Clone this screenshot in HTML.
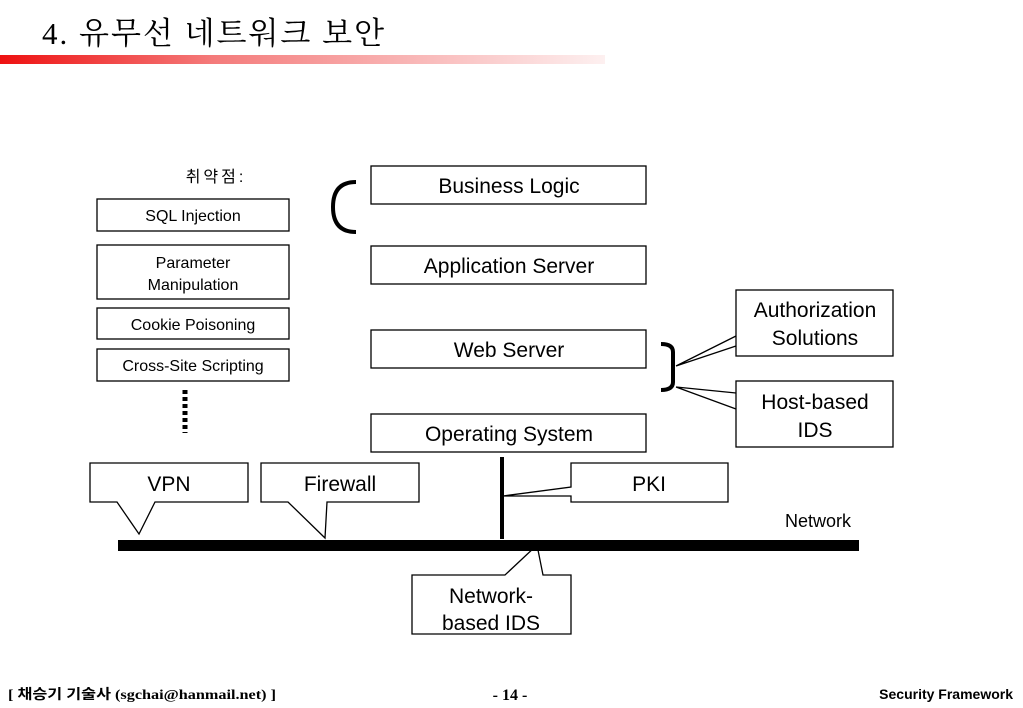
<!DOCTYPE html>
<html><head><meta charset="utf-8"><style>
body{margin:0;background:#fff;width:1023px;height:708px;overflow:hidden}
svg{display:block}
text{font-family:"Liberation Sans","Noto Sans CJK KR",sans-serif;fill:#000}
</style></head><body>
<svg width="1023" height="708" viewBox="0 0 1023 708">
<defs><linearGradient id="g" x1="0" x2="1"><stop offset="0" stop-color="#ee1111"/><stop offset="0.35" stop-color="#f47a7a"/><stop offset="1" stop-color="#fdf0f0"/></linearGradient></defs>
<text x="42" y="44" font-size="31" letter-spacing="2" style="font-family:'Liberation Serif','Noto Serif CJK SC',serif" fill="#1a2040">4. 유무선 네트워크 보안</text>
<rect x="0" y="55" width="605" height="9" fill="url(#g)"/>
<g fill="#fff" stroke="#000" stroke-width="1.3">
<rect x="97" y="199" width="192" height="32"/>
<rect x="97" y="245" width="192" height="54"/>
<rect x="97" y="308" width="192" height="31"/>
<rect x="97" y="349" width="192" height="32"/>
<rect x="371" y="166" width="275" height="38"/>
<rect x="371" y="246" width="275" height="38"/>
<rect x="371" y="330" width="275" height="38"/>
<rect x="371" y="414" width="275" height="38"/>
<rect x="736" y="290" width="157" height="66"/>
<rect x="736" y="381" width="157" height="66"/>
<path d="M90 463H248V502H155L139 534L117 502H90Z"/>
<path d="M261 463H419V502H327L325 538L288 502H261Z"/>
<path d="M571 463H728V502H571V496L503 496L571 487Z"/>
<path d="M412 575H505L537 545L543 575H571V634H412Z"/>
<path d="M676 366L736 336M676 366L736 346M676 387L736 393M676 387L736 409" fill="none"/>
</g>
<rect x="118" y="540" width="741" height="11" fill="#000"/>
<rect x="500" y="457" width="4" height="82" fill="#000"/>
<line x1="185" y1="390" x2="185" y2="433" stroke="#000" stroke-width="5" stroke-dasharray="4,3"/>
<path d="M356 182Q333 182 333 207Q333 232 356 232" fill="none" stroke="#000" stroke-width="4"/>
<path d="M661 344Q673 344 673 352V382Q673 390 661 390" fill="none" stroke="#000" stroke-width="4"/>
<g font-size="16" text-anchor="middle">
<text x="216" y="182" letter-spacing="3">취약점:</text>
<text x="193" y="221">SQL Injection</text>
<text x="193" y="268">Parameter</text>
<text x="193" y="290">Manipulation</text>
<text x="193" y="330">Cookie Poisoning</text>
<text x="193" y="371">Cross-Site Scripting</text>
</g>
<g font-size="21" text-anchor="middle">
<text x="509" y="193">Business Logic</text>
<text x="509" y="273">Application Server</text>
<text x="509" y="357">Web Server</text>
<text x="509" y="441">Operating System</text>
<text x="815" y="317">Authorization</text>
<text x="815" y="345">Solutions</text>
<text x="815" y="409">Host-based</text>
<text x="815" y="437">IDS</text>
<text x="169" y="491">VPN</text>
<text x="340" y="491">Firewall</text>
<text x="649" y="491">PKI</text>
<text x="491" y="603">Network-</text>
<text x="491" y="630">based IDS</text>
</g>
<text x="818" y="527" font-size="18" text-anchor="middle">Network</text>
<text x="8" y="699" font-size="14" font-weight="bold" textLength="268" lengthAdjust="spacingAndGlyphs" style="font-family:'Liberation Serif','Noto Sans CJK KR',serif">[ 채승기 기술사 (sgchai@hanmail.net) ]</text>
<text x="510" y="700" font-size="16" font-weight="bold" text-anchor="middle" style="font-family:'Liberation Serif',serif">- 14 -</text>
<text x="1013" y="699" font-size="14" font-weight="bold" text-anchor="end">Security Framework</text>
</svg>
</body></html>
